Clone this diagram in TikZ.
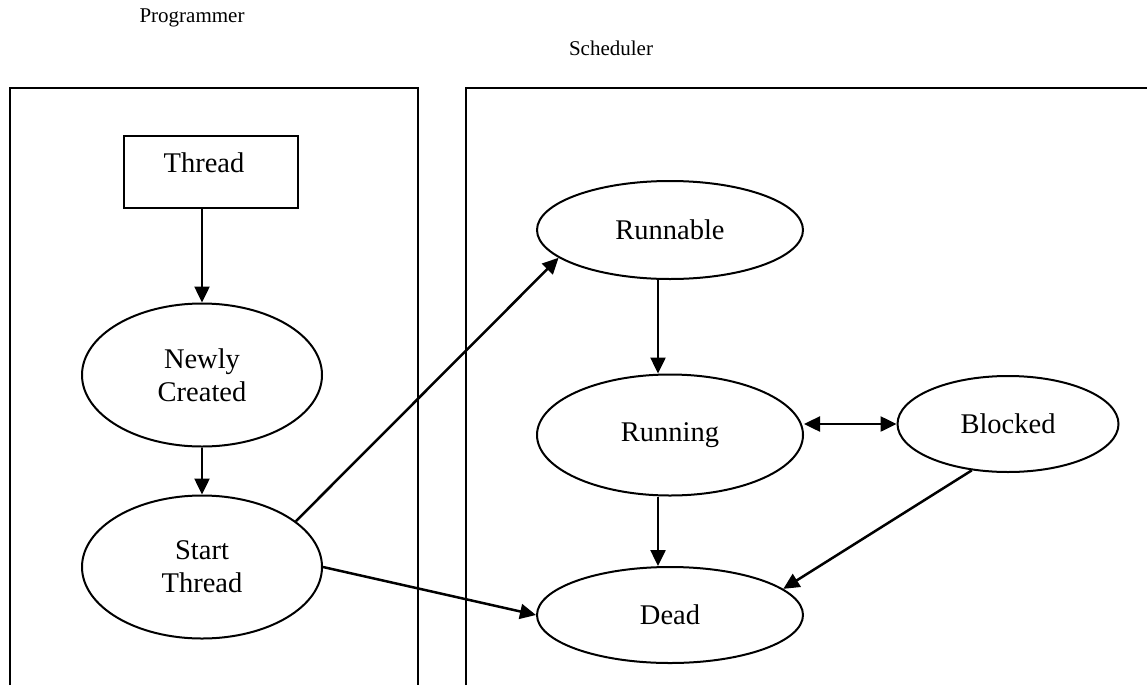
\documentclass[tikz,border=0pt]{standalone}
\usepackage{fontspec}
\setmainfont{Liberation Serif}
\usetikzlibrary{shapes.geometric,arrows.meta}

\begin{document}
\begin{tikzpicture}[x=1pt,y=-1pt,
    state/.style={ellipse,draw,line width=2pt,inner sep=0pt,align=center,
                  font=\fontsize{28.5}{33}\selectfont},
    stepbox/.style={rectangle,draw,line width=2.5pt,inner sep=0pt,
                  font=\fontsize{28.5}{33}\selectfont},
    lane/.style={line width=2.5pt},
    title/.style={font=\fontsize{21}{25}\selectfont},
    tip/.tip={Triangle[length=16pt,width=15pt]},
    arr/.style={line width=2.5pt,-tip},
    dbl/.style={line width=2.5pt,tip-tip}]

  \useasboundingbox (0,0) rectangle (1147,685);

  % swim lanes (open at the bottom)
  \draw[lane] (10,685) -- (10,88) -- (418,88) -- (418,685);
  \draw[lane] (466,685) -- (466,88) -- (1150,88);

  \node[title] (prog) at (192,18) {Programmer};
  \node[title] (sched) at (611,48) {Scheduler};

  % programmer side; the label sits high and a little left in its box
  \node[stepbox,minimum width=174pt,minimum height=72pt] (thread) at (211,172)
       {Thread\rule[-18pt]{0pt}{0pt}\hspace*{14pt}};
  \node[state,minimum width=240pt,minimum height=143pt] (newly) at (202,375) {Newly\\Created};
  \node[state,minimum width=240pt,minimum height=143pt] (start) at (202,567) {Start\\Thread};

  % scheduler side
  \node[state,minimum width=266pt,minimum height=98pt] (runnable) at (670,230) {Runnable};
  \node[state,minimum width=266pt,minimum height=121pt] (running) at (670,435) {Running};
  \node[state,minimum width=221pt,minimum height=96pt] (blocked) at (1008,424) {Blocked};
  \node[state,minimum width=266pt,minimum height=96pt] (dead) at (670,615) {Dead};

  % transitions
  \draw[arr] (thread.south -| newly.north) -- (newly.north);
  \draw[arr] (newly.south) -- (start.north);
  \draw[arr] (start.26) -- (runnable.194);
  \draw[arr] (start.east) -- (dead.west);
  \draw[arr] ([xshift=-12pt]runnable.south) -- ([xshift=-12pt]running.north);
  \draw[arr] ([xshift=-12pt]running.south) -- ([xshift=-12pt]dead.north);
  \draw[dbl] (running.east |- blocked.west) -- (blocked.west);
  \draw[arr] (blocked.232) -- (dead.13);
\end{tikzpicture}
\end{document}
